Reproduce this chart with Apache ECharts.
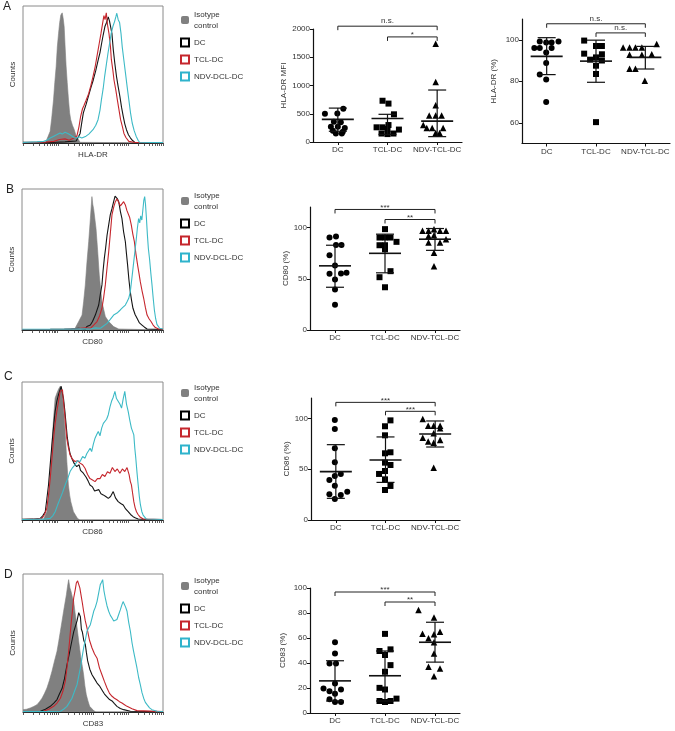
<!DOCTYPE html>
<html><head><meta charset="utf-8">
<script src="https://cdn.jsdelivr.net/npm/echarts@6/dist/echarts.min.js"></script>
<style>html,body{margin:0;padding:0;background:#fff}#c{width:675px;height:731px}</style>
</head><body><div id="c"></div>
<script>
// ---------- labels ----------
const categories = ['DC', 'TCL-DC', 'NDV-TCL-DC'];
const legendNames = ['Isotype control', 'DC', 'TCL-DC', 'NDV-DCL-DC'];
const panelLetters = ['A', 'B', 'C', 'D'];
const histAxisNames = ['HLA-DR', 'CD80', 'CD86', 'CD83'];
const scatterAxisNames = ['HLA-DR MFI', 'HLA-DR (%)', 'CD80 (%)', 'CD86 (%)', 'CD83 (%)'];

// ---------- histogram curves (x: % of plot width on log scale, y: % of max height) ----------
const histA_iso = [[0,0],[16,0],[17,0.5],[19.4,8.5],[20.5,18],[21.8,31.5],[22.7,44],[23.7,56],[24.5,70],[25.4,80],[26.2,88],[27,93.4],[28,95],[28.7,91],[29.4,85],[30.1,70],[30.8,56],[31.6,44],[32.5,31.5],[33.3,22],[34.1,17],[35.3,13],[36.5,10],[37.7,6],[38.9,3.6],[40.8,0.5],[42,0],[100,0]];
const histA_dc = [[0,0.5],[10,0.6],[20,0.4],[30,0.8],[38,1.5],[40.8,7],[42,15],[43.1,22],[45,28],[46.7,34],[48.4,40],[50.2,46],[52,53],[53.8,61],[55,66],[56.2,73],[57.3,79],[58.5,85],[59.7,88],[60.9,92],[61.8,89],[62.6,90],[63.5,80],[64.5,68],[65.6,58],[66.8,48.5],[68,41],[69.2,34],[70.4,26],[71.6,19.4],[72.7,14],[73.9,9.7],[75.3,6],[76.8,3.6],[78.3,1.8],[79.9,0.5],[90,0.4],[100,0.3]];
const histA_tcl = [[0,0.3],[15,0.5],[22,1.2],[26,2.5],[30,3],[33,2],[36,3.5],[38.5,5],[40,12],[41.1,19],[42.5,25],[43.4,27],[45,31],[46.9,36],[48.5,42],[50,48.5],[51.6,56],[53.3,66],[54.5,73],[55.7,80],[56.8,87],[57.8,93],[58.6,90],[59.5,95],[60.4,86],[61.4,80],[62.5,70],[63.1,61],[64.2,53],[65,46],[66.4,38],[67.4,31.5],[68.6,24],[69.7,17],[71,12],[72.1,7],[73.5,4],[75.6,1.2],[80,0.4],[100,0.3]];
const histA_ndv = [[0,0.4],[10,0.8],[14.7,1.2],[17,2],[19.4,3.6],[22,5],[24,6],[26.5,7.3],[28,6.5],[30,7.8],[32,7],[33.6,6],[36.5,4],[38.5,3.6],[40,4.5],[42,3.6],[45,5],[47,6.5],[50,9.7],[52,13],[53.6,17],[55,24],[56,31.5],[57.3,40],[58.3,48.5],[59.5,57],[60.7,65.5],[61.9,73],[63,80],[64.2,85],[65.4,88.6],[66.3,92],[67,94.7],[68,90],[69,87.9],[70,80],[70.9,70],[72.1,60],[73.2,51],[74.4,41],[75.6,31.5],[76.8,22],[78,14.6],[79.4,9],[80.8,5],[82.2,2],[83.2,0.5],[100,0.3]];

const histB_iso = [[0,0],[37,0],[37.8,0.5],[40.2,6],[42.6,10.6],[43.7,20],[44.9,32],[46.1,48.5],[47.3,62.6],[48.5,79],[49.6,94.6],[50.2,89],[50.8,86],[52.5,72],[53.7,55.6],[54.8,39],[55.7,30],[56.7,20],[59.1,9.5],[61.5,6],[65,2.4],[68.6,0.7],[70,0],[100,0]];
const histB_dc = [[0,0.4],[20,0.5],[35,0.7],[40,1.2],[44.9,0.7],[46,2.5],[48.5,3.5],[50,6],[52,10.6],[54.4,17.7],[55.5,25],[56.7,32],[57.5,42],[58.4,51],[59.3,58],[60.3,67],[61.4,74],[62.6,81.6],[63.8,86],[65,91],[66,95],[66.9,94.6],[67.7,93],[68.6,91],[69.8,84],[70.9,79],[72,70],[73.3,62.6],[74.1,54],[74.9,46],[75.8,36],[76.8,27],[77.7,21],[78.7,15.4],[80.2,11],[81.6,8.3],[83.3,5],[85.1,3.5],[86.9,2],[88.7,0.7],[100,0.4]];
const histB_tcl = [[0,0.4],[30,0.5],[40,1],[45,1.5],[48.5,1.2],[50.8,3.5],[53.2,6],[55,10],[56.7,15.4],[57.9,23],[59.1,32],[60.3,44],[61.5,55.6],[62.6,68],[63.8,81.6],[65,87],[66.2,91],[67.4,93],[68.6,92],[69.8,88],[70.9,88.7],[72.1,91],[73.3,88.7],[74.3,85],[75.2,86.3],[76.3,80],[77.5,74.5],[78.6,68],[79.7,62.6],[80.8,54],[82,46],[83,40],[83.9,34.3],[85.1,28],[86.3,22.5],[87.5,16],[88.7,10.6],[90.1,8],[91.5,6],[93,3.5],[94.6,1.7],[96.9,0.7],[100,0.5]];
const histB_ndv = [[0,0.5],[30,0.6],[45,0.8],[48.5,0.7],[52,1.5],[55.6,1.2],[58,3],[60.3,4.7],[62.6,7.5],[65,10.6],[67.4,12],[69.7,14.2],[71.5,16],[73.3,17.7],[74.5,20],[75.7,22.5],[76.8,27],[77.5,33],[78.3,40],[79.2,48],[80.1,56],[81,64],[81.8,72],[82.7,79],[83.5,76],[84.2,81],[85,78],[85.8,86],[86.4,92],[87,94.6],[87.6,89],[88.2,80],[88.9,68],[89.6,58],[90.5,50],[91.4,40],[92.2,32],[93.1,22],[93.9,14],[94.8,8],[95.7,4],[97.6,1.2],[100,0.7]];

const histC_iso = [[0,0],[15,0],[15.3,1],[17.6,6],[18.6,15],[19.5,25.4],[20.4,40],[21.2,54.5],[21.8,64],[22.4,73.8],[23,82],[23.5,88.4],[24.8,92],[26,95],[27.1,96.9],[28,93],[28.9,88.4],[29.8,76],[30.6,64],[31.2,53],[31.8,42.4],[32.9,25.4],[33.8,18],[34.6,13.3],[36.5,6],[39.3,1.2],[41,0],[100,0]];
const histC_dc = [[0,0.5],[8,0.6],[12.9,1.2],[14.7,3],[16.5,6],[17.6,15],[18.8,25.4],[20,40],[21.2,54.5],[22.4,68],[23.5,78.7],[24.7,86],[25.9,90.8],[26.9,94],[27.8,96.9],[28.6,92],[29.4,88.4],[30.4,79],[31.3,69],[32.1,60],[32.9,54.5],[34.1,48],[35.3,44.8],[37,41],[38.8,38.7],[40.5,40],[41.5,36],[43.5,33.9],[45.5,31],[47,28],[48.2,25.4],[50,24],[51.5,21],[52.9,20.6],[54.5,22],[56,19],[57.6,18.2],[59.4,17],[61.2,15.7],[62.8,17],[64.7,20.6],[66.3,16],[68.2,13.3],[70,12],[71.8,10.9],[73.5,8],[75.3,6],[77,4],[78.8,2.4],[80.6,1.5],[82.4,0.7],[90,0.4],[100,0.3]];
const histC_tcl = [[0,0.4],[10,0.6],[14.1,1.2],[16,4],[17.6,8.5],[18.8,18],[20,30],[21.2,44],[22.4,59],[23.5,70],[24.7,78.7],[25.9,86],[27.1,93.2],[28.7,94.4],[29.4,86],[30.1,78.7],[31,68],[31.8,59],[33,52],[34.1,47.2],[35.8,44],[37.6,42.4],[39.4,43],[41.2,41.2],[43,40],[44.7,37.5],[46.5,33],[48.2,30],[50,29],[51.8,27.8],[53.5,30],[55.3,30],[57,33],[58.8,31.5],[60.6,35],[62.4,33.9],[64.1,38],[65.9,35.1],[67.6,37],[69.4,33.9],[71.2,37],[72.9,35.1],[74.5,38],[76,32.7],[76.8,28],[77.6,25.4],[78.5,19],[79.3,13.3],[80.2,9],[81.2,6],[82.3,4],[83.5,2.4],[85.9,0.7],[100,0.4]];
const histC_ndv = [[0,0.4],[15,0.6],[20,1.2],[21.8,3],[23.5,6],[25.3,11],[27.1,15.7],[28.8,20],[30.6,25.4],[32.4,30],[34.1,35.1],[35.9,38],[37.6,40],[39.4,43],[41.2,42.4],[43,46],[44.7,44.8],[45.9,48],[47.1,47.2],[48.3,52],[49.4,49.6],[50.6,55],[51.8,59.3],[53,62],[54.1,64.2],[55.3,61],[56.5,66.6],[57.7,70],[58.8,71.4],[60,73],[61.2,76.3],[62.4,82],[63.5,86],[64.7,89],[65.9,93.2],[67,88],[68.2,86],[69.4,84],[70.6,81.1],[71.8,88],[72.9,93.2],[74.1,84],[75.3,78.7],[76.5,72],[77.6,66.6],[78.5,64],[79.3,61.7],[80,52],[80.7,44.8],[81.6,34],[82.4,25.4],[83.2,17],[84,10.9],[85,6],[85.9,3.6],[88.2,0.7],[100,0.4]];

const histD_iso = [[0,1.7],[2.5,2],[5.2,2.9],[7.6,4],[10,5.3],[11.8,7.5],[13.6,10],[15.4,13.5],[17.1,17.4],[18.9,23],[20.7,29.5],[22.5,37],[24.3,44],[25.5,51],[26.7,58.5],[27.9,66],[29,73],[30,79],[31,85],[31.8,91],[32.6,95.9],[33.5,90],[34.3,87.4],[35.3,83],[36.2,80],[37.2,72],[38.1,65.7],[39,58],[39.8,51.2],[40.6,45],[41.4,39],[42.4,33],[43.3,27],[44.2,19],[45.2,12.6],[46.4,8],[47.6,4.1],[50.5,1],[52,0],[100,0]];
const histD_dc = [[0,0.3],[10,0.4],[12.4,0.5],[16,2],[19.5,4.1],[22,6.5],[24.3,9],[26,13],[27.9,17],[29.6,24],[31.4,34],[32.6,40],[33.8,46],[35,52],[36.2,58],[37.4,62],[38.6,66],[39.8,72],[41,69],[41.7,60],[42.4,58],[43.4,52],[44.5,49],[45.3,43],[46.2,37],[47.7,31],[49.3,27],[51.1,24],[52.9,21],[54.6,19],[56.4,16],[58.2,13],[60,11],[61.8,9],[63.6,8],[65.3,6],[67.1,4.1],[69.5,2.5],[71.9,1.7],[76.7,0.5],[100,0.3]];
const histD_tcl = [[0,0.3],[10,0.4],[14.8,0.5],[18.3,2],[21.9,4.1],[24.3,6.5],[26.7,10],[28.5,15],[30.2,22.2],[31.4,32],[32.6,44],[33.5,54],[34.3,63.3],[35.3,73],[36.2,82.6],[37.2,88],[38.1,93.5],[39,95],[39.8,95.9],[40.6,90],[41.4,85],[42.4,79],[43.3,73],[44.5,66],[45.7,60.9],[47.5,52],[49.3,46.4],[51.1,42],[52.9,39],[54.6,32],[56.4,27],[58.2,22],[60,17.4],[61.8,13.5],[63.6,11.4],[65.3,10],[67.1,8.9],[68.9,7.5],[70.7,6.5],[72.5,5.3],[74.3,4.1],[77.9,2.4],[81.4,1],[100,0.3]];
const histD_ndv = [[0,0.3],[20,0.4],[26.7,0.5],[29,2],[31.4,4.1],[33.2,7],[35,10],[36.8,15],[38.6,19.8],[39.8,26],[41,31.9],[42.1,39],[43.3,46.4],[44.5,52],[45.7,58.5],[46.9,61],[48.1,63.3],[49.3,68],[50.5,73],[51.7,76],[52.9,80.2],[54,86],[55.2,92.3],[56.1,94],[56.9,95.9],[57.8,88],[58.8,82.6],[60,77],[61.2,73],[62.4,70],[63.6,68.1],[64.8,66],[66,65.7],[67.1,67],[68.3,70.5],[69.5,74],[70.7,77.8],[71.5,80],[72.4,79],[73.3,76],[74.3,73],[75.5,65],[76.7,58.5],[77.9,50],[79,44],[80.2,38],[81.4,31.9],[82.6,25],[83.8,19.8],[85,14],[86.2,10],[87.4,7],[88.6,5.3],[90.4,3],[92.1,1.7],[95.7,0.5],[100,0.4]];

// ---------- scatter values: [x position within category band (0..3), value] ----------
const a1DC = [[0.24,500],[0.49,505],[0.61,590],[0.42,360],[0.56,350],[0.36,270],[0.50,270],[0.64,250],[0.40,200],[0.60,180],[0.46,150],[0.58,150]];
const a1TCL = [[1.40,730],[1.52,680],[1.63,490],[1.28,260],[1.40,260],[1.52,300],[1.73,220],[1.38,150],[1.50,140],[1.62,150],[1.50,230]];
const a1NDV = [[2.47,1740],[2.47,1060],[2.47,650],[2.34,470],[2.47,470],[2.59,470],[2.22,300],[2.29,250],[2.47,160],[2.62,250],[2.40,250],[2.55,160]];
const a1Bars = [[0.5,400,190,600],[1.5,415,135,490],[2.5,370,95,920]];
const a1Brackets = [[0.5,2.5,2050],[1.5,2.5,1860]];
const a1BracketLabels = ['n.s.', '*'];

const a2DC = [[0.25,96],[0.36,96],[0.36,99.2],[0.49,98.7],[0.60,98.7],[0.74,99.2],[0.60,96],[0.49,93.9],[0.49,88.8],[0.36,83.2],[0.49,80.8],[0.49,70]];
const a2TCL = [[1.26,99.6],[1.26,93.3],[1.50,97.0],[1.62,97.0],[1.38,90.4],[1.50,91.5],[1.62,90.0],[1.50,87.5],[1.50,83.5],[1.50,60.3],[1.62,93.0]];
const a2NDV = [[2.05,96.3],[2.18,96.3],[2.30,96.3],[2.43,96.3],[2.73,98],[2.18,92.8],[2.43,92.8],[2.63,93],[2.18,86],[2.30,86],[2.49,80.3]];
const a2Bars = [[0.5,92,83.2,101],[1.5,89.7,79.5,99.8],[2.5,91.5,85.9,96.8]];
const a2Brackets = [[0.5,2.5,107.7],[1.5,2.5,103.3]];
const a2BracketLabels = ['n.s.', 'n.s.'];

const bDC = [[0.39,90.2],[0.52,91.2],[0.52,83],[0.63,83],[0.39,73],[0.50,63],[0.39,54.8],[0.62,55.1],[0.73,55.8],[0.50,49.2],[0.50,39.4],[0.50,24.6]];
const bTCL = [[1.50,98.4],[1.39,90.2],[1.50,90.2],[1.61,90.2],[1.73,86],[1.39,82.7],[1.50,82.7],[1.50,78.7],[1.61,57.4],[1.39,51.5],[1.50,41.7]];
const bNDV = [[2.25,96.8],[2.37,96.8],[2.48,98.4],[2.60,96.8],[2.72,96.8],[2.37,91.8],[2.48,92.5],[2.37,85.3],[2.60,85.3],[2.72,88.6],[2.48,75.4],[2.48,62.3]];
const bBars = [[0.5,62.6,41.7,82.7],[1.5,74.8,55.8,93.5],[2.5,88.6,77.7,99]];
const bBrackets = [[0.5,2.5,117.6],[1.5,2.5,107.8]];
const bBracketLabels = ['***', '**'];

const cDC = [[0.48,98.4],[0.48,89.5],[0.48,70.5],[0.48,56.7],[0.60,45.3],[0.37,39.4],[0.48,43.3],[0.48,33.8],[0.37,25.3],[0.60,24.6],[0.73,27.9],[0.48,20.7]];
const cTCL = [[1.60,98],[1.49,92.2],[1.49,83.3],[1.49,65.6],[1.60,66.6],[1.49,56.4],[1.60,54.1],[1.37,45.3],[1.49,48.2],[1.49,40],[1.60,33.5],[1.49,29.5]];
const cNDV = [[2.25,99.4],[2.36,92.8],[2.47,92.8],[2.60,92.8],[2.60,90.2],[2.25,81],[2.36,77.1],[2.47,76.1],[2.60,78.7],[2.47,85.3],[2.47,51.5]];
const cBars = [[0.5,47.6,21.3,74.1],[1.5,59,37,81.7],[2.5,84.6,71.8,97.4]];
const cBrackets = [[0.5,2.5,115.7],[1.5,2.5,106.9]];
const cBracketLabels = ['***', '***'];

const dDC = [[0.50,56.6],[0.50,47.7],[0.39,39.7],[0.52,39.7],[0.27,19.6],[0.39,17.4],[0.62,18.8],[0.50,23.6],[0.50,15.5],[0.39,11],[0.50,8.8],[0.62,8.8]];
const dTCL = [[1.50,63.3],[1.39,49.6],[1.61,50.9],[1.50,46.4],[1.61,38.3],[1.50,33],[1.39,20.1],[1.50,18.8],[1.39,9.6],[1.50,8.8],[1.61,9.6],[1.73,11.5]];
const dNDV = [[2.17,82.5],[2.48,76.4],[2.25,63.5],[2.37,59.8],[2.48,63],[2.60,65.1],[2.48,56.6],[2.48,47.7],[2.37,37],[2.60,35.6],[2.48,29.5]];
const dBars = [[0.5,25.7,9.6,41.8],[1.5,29.8,9.6,49.6],[2.5,56.6,40.7,72.6]];
const dBrackets = [[0.5,2.5,96.8],[1.5,2.5,88.8]];
const dBracketLabels = ['***', '**'];

const a1Ticks = [0, 500, 1000, 1500, 2000];
const a2Ticks = [60, 80, 100];
const bTicks = [0, 50, 100];
const cTicks = [0, 50, 100];
const dTicks = [0, 20, 40, 60, 80, 100];

// ---------- styling / layout ----------
const FONT = 'Liberation Sans, Arial, sans-serif';
const TXT = '#333';
const histColors = ['#808080', '#151515', '#c5262d', '#3dbac6'];
const legendBorder = ['#808080', '#000000', '#c5262d', '#2fb3cc'];

const histPanels = [
  {left:23, top:6, w:140, h:137, curves:[histA_iso, histA_dc, histA_tcl, histA_ndv], legendTop:4, letterTop:1, letterLeft:3},
  {left:22, top:189, w:141, h:141, curves:[histB_iso, histB_dc, histB_tcl, histB_ndv], legendTop:185, letterTop:184, letterLeft:6},
  {left:22, top:382, w:141, h:138, curves:[histC_iso, histC_dc, histC_tcl, histC_ndv], legendTop:377, letterTop:371, letterLeft:4},
  {left:23, top:574, w:140, h:138, curves:[histD_iso, histD_dc, histD_tcl, histD_ndv], legendTop:570, letterTop:569, letterLeft:4}
];

const scatterPanels = [
  {left:313, top:29, w:149, h:113, min:0, max:2000, ticks:a1Ticks, gap:25, pts:[a1DC,a1TCL,a1NDV], bars:a1Bars, br:a1Brackets, brl:a1BracketLabels},
  {left:522, top:19, w:148, h:124.5, min:50, max:110, ticks:a2Ticks, gap:24, pts:[a2DC,a2TCL,a2NDV], bars:a2Bars, br:a2Brackets, brl:a2BracketLabels},
  {left:310, top:207, w:150, h:123, min:0, max:120, ticks:bTicks, gap:15, pts:[bDC,bTCL,bNDV], bars:bBars, br:bBrackets, brl:bBracketLabels},
  {left:311, top:398, w:149, h:122, min:0, max:120, ticks:cTicks, gap:20, pts:[cDC,cTCL,cNDV], bars:cBars, br:cBrackets, brl:cBracketLabels},
  {left:310, top:588, w:150, h:125, min:0, max:100, ticks:dTicks, gap:23, pts:[dDC,dTCL,dNDV], bars:dBars, br:dBrackets, brl:dBracketLabels}
];
const symbols = ['circle', 'rect', 'triangle'];

// log-decade tick marks for the flow histograms (4 decades)
const histTicks = [];
for (let d = 0; d < 4; d++) for (let k = 1; k < 10; k++) histTicks.push((d + Math.log10(k)) * 25);
histTicks.push(100);

const grids = [], xAxes = [], yAxes = [], series = [], legends = [], graphics = [];

histPanels.forEach((p, i) => {
  const gi = grids.length;
  grids.push({left:p.left, top:p.top, width:p.w, height:p.h, show:true, borderColor:'#8a8a8a', borderWidth:1, backgroundColor:'rgba(0,0,0,0)'});
  xAxes.push({gridIndex:gi, type:'value', min:0, max:100, name:histAxisNames[i], nameLocation:'middle', nameGap:8,
    nameTextStyle:{fontSize:8, color:TXT, fontFamily:FONT},
    axisLine:{show:true, lineStyle:{color:'#222', width:1}},
    axisTick:{show:true, customValues:histTicks, length:3, inside:false, lineStyle:{color:'#333', width:0.8}},
    axisLabel:{show:false}, splitLine:{show:false}});
  yAxes.push({gridIndex:gi, type:'value', min:0, max:100, name:'Counts', nameLocation:'middle', nameGap:6,
    nameTextStyle:{fontSize:8, color:TXT, fontFamily:FONT},
    axisLine:{show:false}, axisTick:{show:false}, axisLabel:{show:false}, splitLine:{show:false}});
  p.curves.forEach((c, k) => {
    const s = {type:'line', name:legendNames[k], xAxisIndex:gi, yAxisIndex:gi, data:c, symbol:'none', showSymbol:false,
      lineStyle:{color:histColors[k], width:k === 0 ? 0.6 : 1.1}, itemStyle:{color:histColors[k]}, z:2 + k, silent:true};
    if (k === 0) s.areaStyle = {color:histColors[0], opacity:1};
    series.push(s);
  });
  legends.push({orient:'vertical', left:175, top:p.legendTop, itemWidth:8, itemHeight:8, itemGap:6, selectedMode:false,
    textStyle:{fontSize:8, color:TXT, fontFamily:FONT, lineHeight:11},
    formatter: n => n === 'Isotype control' ? 'Isotype\ncontrol' : n,
    data: legendNames.map((n, k) => k === 0
      ? {name:n, icon:'roundRect', itemStyle:{color:legendBorder[0], borderWidth:0}}
      : {name:n, icon:'rect', itemStyle:{color:'#fff', borderColor:legendBorder[k], borderWidth:2}})});
  graphics.push({type:'text', left:p.letterLeft, top:p.letterTop, style:{text:panelLetters[i], fontSize:12, fill:'#222', fontFamily:FONT}});
});

scatterPanels.forEach((p, i) => {
  const gi = grids.length;
  grids.push({left:p.left, top:p.top, width:p.w, height:p.h});
  xAxes.push({gridIndex:gi, type:'value', min:0, max:3,
    axisLine:{show:true, lineStyle:{color:'#111', width:1.2}},
    axisTick:{show:true, customValues:[0.5,1.5,2.5], length:3, lineStyle:{color:'#111'}},
    axisLabel:{show:true, customValues:[0.5,1.5,2.5], formatter: v => categories[Math.round(v - 0.5)], fontSize:8, color:TXT, fontFamily:FONT, margin:4},
    splitLine:{show:false}});
  yAxes.push({gridIndex:gi, type:'value', min:p.min, max:p.max, name:scatterAxisNames[i], nameLocation:'middle', nameGap:p.gap,
    nameTextStyle:{fontSize:8, color:TXT, fontFamily:FONT},
    axisLine:{show:true, lineStyle:{color:'#111', width:1.2}},
    axisTick:{show:true, customValues:p.ticks, length:3, lineStyle:{color:'#111'}},
    axisLabel:{show:true, customValues:p.ticks, formatter: v => String(v), fontSize:8, color:TXT, fontFamily:FONT, margin:3},
    splitLine:{show:false}});
  p.pts.forEach((d, k) => {
    series.push({type:'scatter', name:'pts' + i + '_' + k, xAxisIndex:gi, yAxisIndex:gi, data:d, symbol:symbols[k],
      symbolSize:k === 2 ? 6.5 : 6, itemStyle:{color:'#000', opacity:1}, z:3, silent:true});
  });
  series.push({type:'custom', name:'bars' + i, xAxisIndex:gi, yAxisIndex:gi, data:p.bars, clip:false, z:4, silent:true,
    renderItem: (params, api) => {
      const x = api.value(0);
      const pc = api.coord([x, api.value(1)]), pl = api.coord([x, api.value(2)]), ph = api.coord([x, api.value(3)]);
      const st = {stroke:'#111', lineWidth:1.2};
      return {type:'group', children:[
        {type:'line', shape:{x1:pc[0]-16, y1:pc[1], x2:pc[0]+16, y2:pc[1]}, style:{stroke:'#111', lineWidth:1.6}},
        {type:'line', shape:{x1:pl[0], y1:pl[1], x2:ph[0], y2:ph[1]}, style:st},
        {type:'line', shape:{x1:pl[0]-9, y1:pl[1], x2:pl[0]+9, y2:pl[1]}, style:st},
        {type:'line', shape:{x1:ph[0]-9, y1:ph[1], x2:ph[0]+9, y2:ph[1]}, style:st}
      ]};
    }});
  series.push({type:'custom', name:'brackets' + i, xAxisIndex:gi, yAxisIndex:gi, data:p.br, clip:false, z:4, silent:true,
    renderItem: (params, api) => {
      const a = api.coord([api.value(0), api.value(2)]), b = api.coord([api.value(1), api.value(2)]);
      const lab = p.brl[params.dataIndex];
      return {type:'group', children:[
        {type:'polyline', shape:{points:[[a[0], a[1]+4], [a[0], a[1]], [b[0], b[1]], [b[0], b[1]+4]]}, style:{stroke:'#222', lineWidth:1, fill:null}},
        {type:'text', x:(a[0]+b[0])/2, y:a[1] - (lab.indexOf('*') >= 0 ? -2 : 1), style:{text:lab, fontSize:8, fill:TXT, fontFamily:FONT, align:'center', verticalAlign:'bottom'}}
      ]};
    }});
});

const chart = echarts.init(document.getElementById('c'), null, {renderer:'canvas'});
chart.setOption({
  animation:false,
  backgroundColor:'#fff',
  textStyle:{fontFamily:FONT},
  grid:grids, xAxis:xAxes, yAxis:yAxes, series:series, legend:legends, graphic:graphics
});
</script></body></html>
